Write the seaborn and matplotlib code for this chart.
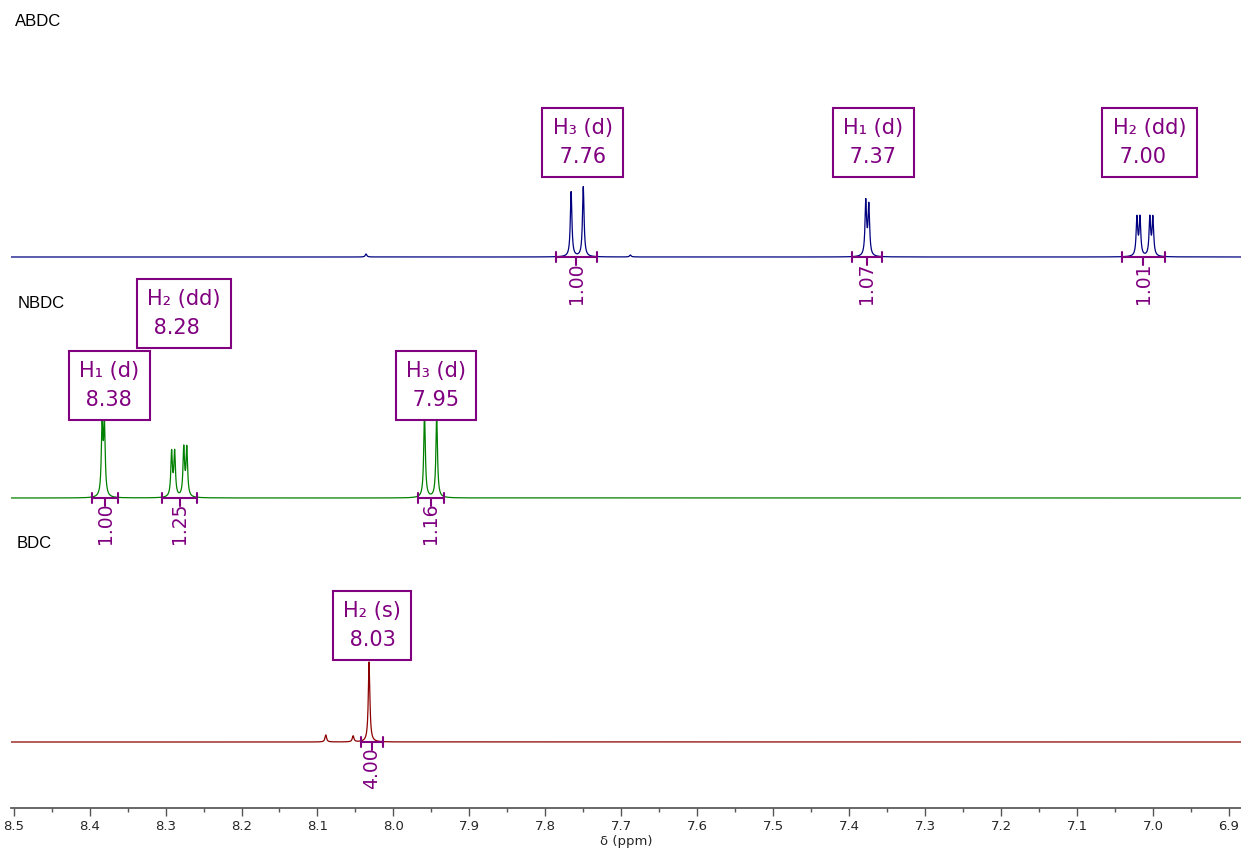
"""
Stacked 1H NMR spectra of BDC, NBDC and ABDC with peak labels and integrals
"""
import numpy as np
import pandas as pd
import matplotlib
matplotlib.use("Agg")
import matplotlib.pyplot as plt
import seaborn as sns

# ---- data ------------------------------------------------------------------
# peak lists (ppm, intensity) for each sample
abdc_ppm = [7.766, 7.750, 7.378, 7.374, 7.021, 7.017, 7.004, 7.000, 8.036, 7.688]
abdc_int = [65, 70, 54, 50, 38, 38, 38, 38, 3, 2]
nbdc_ppm = [8.3835, 8.3805, 8.292, 8.288, 8.276, 8.272, 7.959, 7.943]
nbdc_int = [70, 70, 44, 44, 48, 48, 86, 82]
bdc_ppm = [8.032, 8.089, 8.053]
bdc_int = [80, 7, 6]

sample_names = ["ABDC", "NBDC", "BDC"]

# peak annotations: (sample, label, ppm)
label_sample = ["ABDC", "ABDC", "ABDC", "NBDC", "NBDC", "NBDC", "BDC"]
label_text = ["H\u2083 (d)\n 7.76", "H\u2081 (d)\n 7.37", "H\u2082 (dd)\n 7.00",
              "H\u2081 (d)\n 8.38", "H\u2082 (dd)\n 8.28", "H\u2083 (d)\n 7.95",
              "H\u2082 (s)\n 8.03"]
label_ppm = [7.751, 7.368, 7.0046, 8.374, 8.276, 7.944, 8.028]

# integrals: (sample, start ppm, end ppm, value)
integral_sample = ["ABDC", "ABDC", "ABDC", "NBDC", "NBDC", "NBDC", "BDC"]
integral_start = [7.786, 7.396, 7.041, 8.397, 8.305, 7.968, 8.043]
integral_end = [7.732, 7.357, 6.984, 8.362, 8.258, 7.934, 8.014]
integral_value = ["1.00", "1.07", "1.01", "1.00", "1.25", "1.16", "4.00"]

# ---- layout / style ---------------------------------------------------------
offsets = {"ABDC": 551, "NBDC": 310, "BDC": 66}
colors = {"ABDC": "#000080", "NBDC": "#008000", "BDC": "#8b0000"}
label_y = [641, 641, 641, 398, 470, 398, 158]
name_pos = {"ABDC": (15, 22), "NBDC": (18, 303), "BDC": (17, 543)}
purple = "#800080"
fwhm = 0.0025


def spectrum(ppm_axis, centers, heights):
    hw = fwhm / 2
    y = np.zeros_like(ppm_axis)
    for c, h in zip(centers, heights):
        y += h / (1 + ((ppm_axis - c) / hw) ** 2)
    return y


sns.set_theme(style="white")
plt.rcParams["font.family"] = ["DejaVu Sans"]

fig = plt.figure(figsize=(12.41, 8.5), dpi=100)
ax = fig.add_axes([11 / 1241, 42 / 850, 1230 / 1241, 808 / 850])

grid = np.arange(6.88, 8.505, 0.0001)
peaks = {"ABDC": (abdc_ppm, abdc_int), "NBDC": (nbdc_ppm, nbdc_int), "BDC": (bdc_ppm, bdc_int)}
for name in sample_names:
    centers, heights = peaks[name]
    df = pd.DataFrame({"ppm": grid, "intensity": spectrum(grid, centers, heights) + offsets[name]})
    sns.lineplot(data=df, x="ppm", y="intensity", color=colors[name], lw=0.9,
                 estimator=None, sort=False, ax=ax)
    fx, fy = name_pos[name]
    fig.text(fx / 1241, 1 - fy / 850, name, family="Liberation Sans", fontsize=12,
             va="center", ha="left", color="black")

# peak label boxes
for s, txt, x, y in zip(label_sample, label_text, label_ppm, label_y):
    ax.text(x, y, txt, ha="center", va="bottom", multialignment="left", fontsize=15,
            color=purple, linespacing=1.55,
            bbox=dict(boxstyle="square,pad=0.5", fc="white", ec=purple, lw=1.5))

# integral bars
for s, a, b, v in zip(integral_sample, integral_start, integral_end, integral_value):
    base = offsets[s]
    mid = (a + b) / 2
    ax.plot([a, b], [base, base], color=purple, lw=1.5)
    ax.plot([a, a], [base - 5, base + 5], color=purple, lw=1.5)
    ax.plot([b, b], [base - 5, base + 5], color=purple, lw=1.5)
    ax.plot([mid, mid], [base, base - 8], color=purple, lw=1.5)
    ax.text(mid, base - 5, v, rotation=90, ha="center", va="top", fontsize=13.5, color=purple)

ax.set_xlim(8.5035, 6.884)
ax.set_ylim(0, 808)
ax.set_xticks(np.arange(6.9, 8.51, 0.1))
ax.set_xticklabels([f"{t:.1f}" for t in np.arange(6.9, 8.51, 0.1)])
ax.set_xticks(np.arange(6.95, 8.5, 0.1), minor=True)
ax.tick_params(axis="x", which="major", direction="out", length=6, width=1, color="#555555",
               labelsize=9.5, pad=3, bottom=True)
ax.tick_params(axis="x", which="minor", direction="out", length=3, width=1, color="#555555",
               bottom=True)
ax.set_yticks([])
ax.set_xlabel("\u03b4 (ppm)", fontsize=9.5, labelpad=1)
ax.set_ylabel("")
sns.despine(ax=ax, left=True, top=True, right=True)
ax.spines["bottom"].set_color("#555555")

fig.savefig("out.png", dpi=100)
